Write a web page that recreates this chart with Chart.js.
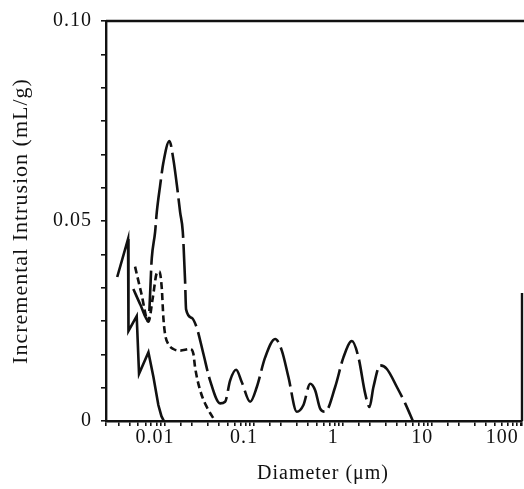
<!DOCTYPE html>
<html>
<head>
<meta charset="utf-8">
<script src="https://cdn.jsdelivr.net/npm/chart.js@4.4.1/dist/chart.umd.min.js"></script>
<style>
  html, body { margin: 0; padding: 0; background: #fff; }
  #wrap { width: 524px; height: 489px; position: relative; }
</style>
</head>
<body>
<div id="wrap"><canvas id="pore"></canvas></div>
<script>
// tick labels
var xTickValues = [0.01, 0.1, 1, 10, 100];
var xTickLabels = ['0.01', '0.1', '1', '10', '100'];
var yTickLabels = ['0', '0.05', '0.10'];

// solid curve (short, left)
var solidD = [0.0029, 0.00384, 0.00388, 0.0048, 0.0051, 0.0065, 0.0074, 0.0084, 0.0091, 0.0097];
var solidV = [0.036, 0.0455, 0.0225, 0.0262, 0.0118, 0.0172, 0.011, 0.004, 0.0012, 0];

// dashed curve
var dashedD = [0.0046, 0.0054, 0.00649, 0.0073, 0.00807, 0.00863, 0.00918, 0.00957, 0.0100, 0.01089,
               0.01239, 0.01475, 0.01907, 0.02079, 0.02173, 0.02474, 0.02941, 0.03648];
var dashedV = [0.0386, 0.032, 0.0248, 0.031, 0.037, 0.0374, 0.0332, 0.0258, 0.0217, 0.0192,
               0.018, 0.0176, 0.018, 0.0168, 0.0134, 0.0077, 0.0035, 0];

// long-dash curve
var longD = [0.0044, 0.0053, 0.00649, 0.00709, 0.00773, 0.00807, 0.00879, 0.00957, 0.01118, 0.01239,
             0.01374, 0.01475, 0.01581, 0.01678, 0.01721, 0.01995, 0.0227, 0.02692, 0.03204, 0.0415,
             0.04722, 0.05373, 0.06281, 0.07277, 0.09017, 0.1072, 0.133, 0.1722, 0.2047, 0.2428,
             0.3018, 0.3581, 0.4258, 0.4844, 0.5516, 0.6281, 0.8128, 1.007, 1.253, 1.486,
             1.766, 1.976, 2.188, 2.606, 3.097, 4.012, 4.972, 6.067];
var longV = [0.033, 0.029, 0.025, 0.0407, 0.0473, 0.0522, 0.0588, 0.0646, 0.070, 0.0654,
             0.058, 0.0522, 0.0473, 0.0349, 0.0279, 0.0258, 0.0233, 0.0168, 0.0101, 0.0044,
             0.0048, 0.0101, 0.0128, 0.0097, 0.0048, 0.0085, 0.0159, 0.0205, 0.0176, 0.011,
             0.0023, 0.004, 0.0093, 0.0077, 0.0031, 0.0023, 0.0085, 0.0159, 0.020, 0.0159,
             0.0069, 0.0035, 0.0085, 0.0139, 0.013, 0.0085, 0.0044, 0];

var INK = '#111';
var SERIF = "'Liberation Serif', 'DejaVu Serif', serif";

function pairs(xs, ys) {
  return xs.map(function (x, i) { return { x: x, y: ys[i] }; });
}

// the scanned figure has slightly wide-set lettering
var spacing = {
  id: 'spacing',
  beforeLayout: function (chart) { chart.ctx.letterSpacing = '1px'; },
  beforeDraw: function (chart) { chart.ctx.letterSpacing = '1px'; }
};

// top edge of the frame, and the short piece of right edge the scan kept
var frame = {
  id: 'frame',
  afterDraw: function (chart) {
    var a = chart.chartArea, ctx = chart.ctx;
    var y = chart.scales.y;
    ctx.save();
    ctx.strokeStyle = INK;
    ctx.lineWidth = 2.4;
    ctx.beginPath();
    ctx.moveTo(a.left, a.top);
    ctx.lineTo(chart.width, a.top);
    ctx.moveTo(a.right, y.getPixelForValue(0.032));
    ctx.lineTo(a.right, a.bottom);
    ctx.stroke();
    ctx.restore();
  }
};

var common = { borderColor: INK, borderWidth: 2.6, pointRadius: 0, fill: false };

new Chart(document.getElementById('pore'), {
  type: 'line',
  data: {
    datasets: [
      Object.assign({ data: pairs(solidD, solidV), tension: 0 }, common),
      Object.assign({ data: pairs(dashedD, dashedV), borderDash: [7, 4], cubicInterpolationMode: 'monotone' }, common),
      Object.assign({ data: pairs(longD, longV), borderDash: [40, 6], cubicInterpolationMode: 'monotone' }, common)
    ]
  },
  options: {
    responsive: true,
    maintainAspectRatio: false,
    animation: false,
    devicePixelRatio: 1,
    layout: { padding: { top: 17, right: 2, left: 0, bottom: 0 } },
    plugins: { legend: { display: false }, tooltip: { enabled: false } },
    scales: {
      x: {
        type: 'logarithmic',
        min: 0.00217,
        max: 102,
        afterFit: function (s) { s.height = 68; },
        border: { color: INK, width: 2.4 },
        grid: { drawOnChartArea: false, drawTicks: true, tickLength: 5, color: INK, lineWidth: 1.6 },
        ticks: {
          autoSkip: false,
          maxRotation: 0,
          padding: 0,
          labelOffset: -10,
          color: INK,
          font: { family: SERIF, size: 20 },
          callback: function (value) {
            for (var i = 0; i < xTickValues.length; i++) {
              if (Math.abs(value / xTickValues[i] - 1) < 1e-6) {
                // last label sits at the canvas edge: pad it so it stays inside
                return i === xTickValues.length - 1 ? xTickLabels[i] + '   ' : xTickLabels[i];
              }
            }
            return '';
          }
        },
        title: {
          display: true,
          text: '   Diameter (\u03bcm)',
          color: INK,
          font: { family: SERIF, size: 20 },
          padding: { top: 0, bottom: 3 }
        }
      },
      y: {
        min: 0,
        max: 0.1,
        afterFit: function (s) { s.width = 106; },
        border: { color: INK, width: 2.4 },
        grid: { drawOnChartArea: false, drawTicks: true, tickLength: 5, color: INK, lineWidth: 1.6 },
        ticks: {
          stepSize: 0.1 / 12,
          padding: 9,
          color: INK,
          font: { family: SERIF, size: 20 },
          callback: function (value, index) {
            if (index === 0) return yTickLabels[0];
            if (index === 6) return yTickLabels[1];
            if (index === 12) return yTickLabels[2];
            return '';
          }
        },
        title: {
          display: true,
          text: 'Incremental Intrusion (mL/g)',
          color: INK,
          font: { family: SERIF, size: 22 },
          padding: { top: 8, bottom: 0 }
        }
      }
    }
  },
  plugins: [spacing, frame]
});
</script>
</body>
</html>
